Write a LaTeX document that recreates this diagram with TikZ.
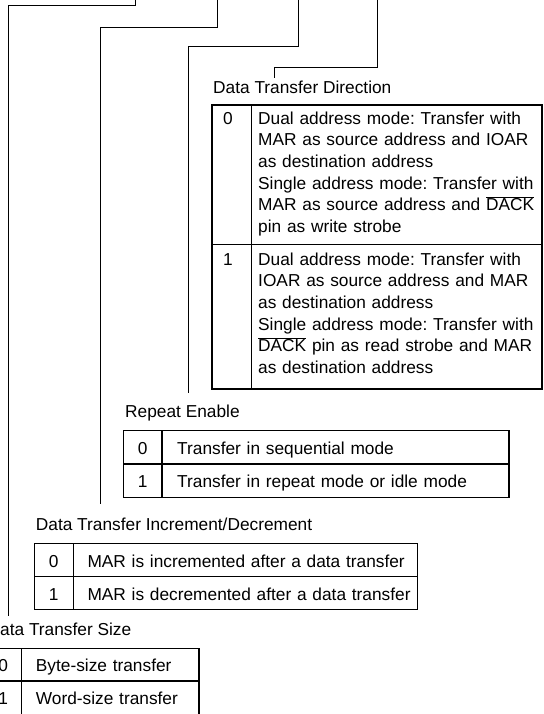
\documentclass[tikz,border=0pt]{standalone}
\usepackage{fontspec}
\setmainfont{Liberation Sans}
\frenchspacing
\newcommand{\dack}{$\overline{\mbox{DACK}}$}
\begin{document}
\begin{tikzpicture}[
    x=1pt, y=-1pt,
    font=\fontsize{17.3}{21.6}\selectfont,
    fieldtitle/.style={anchor=base west, inner sep=0pt},
    bitnum/.style={anchor=base, inner sep=0pt},
    bittext/.style={anchor=base west, inner sep=0pt, align=left, text width=400pt},
    frame/.style={draw, line width=1.1pt},
    leader/.style={draw, line width=0.9pt}
]
\useasboundingbox (0,0) rectangle (543,714);
\clip (0,0) rectangle (543,714);

% Leader lines from the register bits
\coordinate (bit1) at (135,-2);  \coordinate (knee1) at (8,5);     \coordinate (foot1) at (8,616);
\coordinate (bit2) at (217,-2);  \coordinate (knee2) at (100,27);  \coordinate (foot2) at (100,504);
\coordinate (bit3) at (298,-2);  \coordinate (knee3) at (188,46);  \coordinate (foot3) at (188,393);
\coordinate (bit4) at (377,-2);  \coordinate (knee4) at (274,67);  \coordinate (foot4) at (274,78);

\draw[leader] (bit1) |- (knee1) -- (foot1);
\draw[leader] (bit2) |- (knee2) -- (foot2);
\draw[leader] (bit3) |- (knee3) -- (foot3);
\draw[leader] (bit4) |- (knee4) -- (foot4);

% Data transfer direction
\node[fieldtitle] (dirtitle) at (213,93.3) {Data Transfer Direction};
\draw[frame] (212,105) rectangle (542,389);
\draw[frame] (251.5,105) -- (251.5,389);
\draw[frame] (212,244.5) -- (542,244.5);
\node[bitnum] (dir0) at (228,124.3) {0};
\node[bittext] (dir0t) at (258,124.3) {Dual address mode: Transfer with\\MAR as source address and IOAR\\as destination address\\Single address mode: Transfer with\\MAR as source address and \dack\\pin as write strobe};
\node[bitnum] (dir1) at (228,265.3) {1};
\node[bittext] (dir1t) at (258,265.3) {Dual address mode: Transfer with\\IOAR as source address and MAR\\as destination address\\Single address mode: Transfer with\\\dack{} pin as read strobe and MAR\\as destination address};

% Repeat enable
\node[fieldtitle] (reptitle) at (125,417.3) {Repeat Enable};
\draw[frame] (123.3,430.7) rectangle (509,497.3);
\draw[frame] (162,430.7) -- (162,497.3);
\draw[frame] (123.3,464) -- (509,464);
\node[bitnum] (rep0) at (142.6,454.3) {0};
\node[bittext] (rep0t) at (177,454.3) {Transfer in sequential mode};
\node[bitnum] (rep1) at (142.6,487.7) {1};
\node[bittext] (rep1t) at (177,487.7) {Transfer in repeat mode or idle mode};

% Increment / decrement
\node[fieldtitle] (inctitle) at (35.7,530) {Data Transfer Increment/Decrement};
\draw[frame] (34.3,543.3) rectangle (417.3,609.3);
\draw[frame] (73.3,543.3) -- (73.3,609.3);
\draw[frame] (34.3,576.7) -- (417.3,576.7);
\node[bitnum] (inc0) at (53.8,567) {0};
\node[bittext] (inc0t) at (87.3,567) {MAR is incremented after a data transfer};
\node[bitnum] (inc1) at (53.8,600) {1};
\node[bittext] (inc1t) at (87.3,600) {MAR is decremented after a data transfer};

% Transfer size
\node[fieldtitle] (sizetitle) at (-12.5,635) {Data Transfer Size};
\draw[frame] (-15,648.3) rectangle (199,714.3);
\draw[frame] (21.3,648.3) -- (21.3,714.3);
\draw[frame] (-15,681) -- (199,681);
\node[bitnum] (size0) at (3.2,671.7) {0};
\node[bittext] (size0t) at (35.7,671.7) {Byte-size transfer};
\node[bitnum] (size1) at (3.2,704.7) {1};
\node[bittext] (size1t) at (35.7,704.7) {Word-size transfer};

\end{tikzpicture}
\end{document}
